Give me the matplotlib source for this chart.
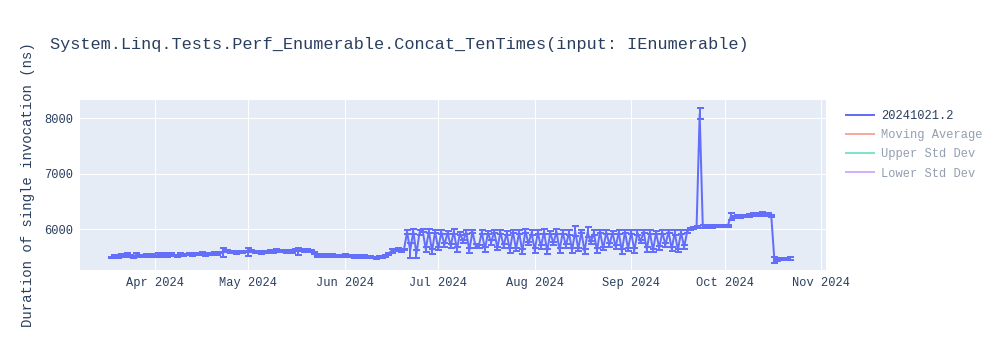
import matplotlib
matplotlib.use("Agg")
import matplotlib.pyplot as plt
import matplotlib.dates as mdates
from matplotlib.lines import Line2D
import pandas as pd

# ---------------- data ----------------
title = "System.Linq.Tests.Perf_Enumerable.Concat_TenTimes(input: IEnumerable)"
y_label = "Duration of single invocation (ns)"
series_name = "20241021.2"
hidden_series = ["Moving Average", "Upper Std Dev", "Lower Std Dev"]
first_day = "2024-03-18"
last_day = "2024-10-22"

vals_mar = [5495, 5520, 5505, 5540, 5515, 5550, 5520, 5505, 5545, 5515, 5510, 5545, 5525, 5540]
vals_apr = [5510, 5545, 5520, 5550, 5525, 5560, 5530, 5525, 5555, 5535, 5545, 5565, 5535, 5560, 5545,
            5570, 5540, 5565, 5550, 5575, 5555, 5580, 5590, 5610, 5580, 5600, 5575, 5595, 5580, 5600]
vals_may = [5590, 5605, 5580, 5595, 5575, 5600, 5590, 5615, 5595, 5625, 5600, 5620, 5590, 5610, 5595,
            5625, 5605, 5630, 5600, 5625, 5610, 5570, 5510, 5535, 5510, 5540, 5515, 5535, 5510, 5530, 5515]
vals_jun = [5535, 5510, 5525, 5500, 5520, 5495, 5515, 5490, 5510, 5495, 5485, 5510, 5500, 5525, 5560,
            5610, 5620, 5640, 5615, 5635,
            5950, 5620, 5960, 5560, 5940, 5980, 5640, 5970, 5600, 5960]
vals_jul = [5650, 5950, 5720, 5940, 5700, 5960, 5640, 5930, 5780, 5950, 5620, 5960, 5700, 5690, 5950,
            5640, 5940, 5760, 5960, 5660, 5950, 5700, 5930, 5620, 5960, 5640, 5950, 5600, 5970, 5740, 5940]
vals_aug = [5620, 5950, 5680, 5960, 5600, 5940, 5750, 5960, 5620, 5950, 5700, 5940, 5620, 5970, 5640,
            5960, 5600, 5950, 5760, 5940, 5620, 5960, 5650, 5950, 5720, 5940, 5680, 5950, 5600, 5960, 5640]
vals_sep = [5950, 5620, 5940, 5780, 5960, 5640, 5950, 5620, 5940, 5660, 5950, 5720, 5960, 5650, 5940,
            5620, 5950, 5680, 5960,
            6010, 6030, 6040, 8080, 6050, 6045, 6055, 6050, 6060, 6055, 6060]
vals_oct = [6065, 6060, 6230, 6225, 6235, 6230, 6240, 6235, 6250, 6265, 6270, 6260, 6275, 6270, 6265,
            6240, 5450, 5455, 5460, 5465, 5470, 5475]

err_mar = [15, 15, 20, 15, 15, 25, 15, 15, 20, 15, 15, 15, 20, 15]
err_apr = [15, 20, 15, 15, 20, 15, 15, 15, 20, 15, 15, 15, 15, 15, 15,
           15, 15, 15, 15, 15, 15, 15, 80, 15, 15, 15, 15, 15, 15, 15]
err_may = [70, 15, 15, 15, 15, 15, 15, 15, 15, 15, 15, 15, 15, 15, 15,
           15, 60, 15, 15, 15, 15, 15, 15, 15, 15, 15, 15, 15, 15, 15, 15]
err_jun = [15, 15, 15, 15, 15, 15, 15, 15, 15, 15, 15, 15, 15, 15, 15,
           30, 15, 15, 15, 15,
           40, 130, 40, 70, 40, 30, 40, 30, 40, 30]
err_jul = [30, 40, 40, 30, 30, 40, 40, 30, 30, 40, 40, 30, 30, 30, 40,
           40, 30, 40, 30, 30, 40, 30, 40, 40, 30, 30, 40, 40, 30, 30, 40]
err_aug = [40, 30, 30, 40, 40, 30, 30, 40, 40, 30, 30, 40, 40, 90, 30,
           30, 40, 90, 30, 40, 40, 30, 30, 40, 40, 30, 30, 40, 40, 30, 30]
err_sep = [30, 40, 40, 30, 30, 40, 40, 30, 30, 40, 40, 30, 30, 40, 40,
           30, 30, 40, 30,
           20, 20, 20, 100, 20, 20, 20, 20, 20, 20, 20]
err_oct = [20, 20, 60, 20, 20, 20, 20, 20, 20, 30, 20, 20, 30, 30, 20,
           20, 60, 20, 20, 20, 20, 20]

values = vals_mar + vals_apr + vals_may + vals_jun + vals_jul + vals_aug + vals_sep + vals_oct
errors = err_mar + err_apr + err_may + err_jun + err_jul + err_aug + err_sep + err_oct
dates = pd.date_range(first_day, last_day, freq="D")

# ---------------- style ----------------
FONT = ["Liberation Mono", "DejaVu Sans Mono"]
TXT = "#2a3f5f"
PX = 0.72  # points per pixel at dpi 100

fig = plt.figure(figsize=(10, 3.5), dpi=100)
ax = fig.add_axes([0.080, 80 / 350, 0.746, 170 / 350])
ax.set_facecolor("#e5ecf6")
for s in ax.spines.values():
    s.set_visible(False)

ax.errorbar(dates, values, yerr=errors, color="#636efa", lw=2 * PX,
            elinewidth=2 * PX, capsize=3.5 * PX, capthick=2 * PX, zorder=3)

ax.set_xlim(pd.Timestamp("2024-03-07 22:00"), pd.Timestamp("2024-11-02 14:00"))
ax.set_ylim(5267, 8330)
ax.set_yticks([6000, 7000, 8000])
ax.xaxis.set_major_locator(mdates.MonthLocator())
ax.xaxis.set_major_formatter(mdates.DateFormatter("%b %Y"))
ax.grid(True, color="white", lw=1 * PX)
ax.set_axisbelow(True)
ax.tick_params(length=0, pad=5, labelsize=12 * PX, colors=TXT)
for lab in ax.get_xticklabels() + ax.get_yticklabels():
    lab.set_family(FONT)

fig.text(0.05, 1 - 45 / 350, title, family=FONT, fontsize=16.9 * PX, color=TXT,
         ha="left", va="center")
fig.text(28 / 1000, 1 - 185 / 350, y_label, family=FONT, fontsize=14 * PX, color=TXT,
         rotation=90, ha="center", va="center")

handles = [Line2D([], [], color="#636efa", lw=2 * PX)]
for c in ["#EF553B", "#00cc96", "#ab63fa"]:
    handles.append(Line2D([], [], color=c, lw=2 * PX, alpha=0.5))
leg = fig.legend(handles, [series_name] + hidden_series, loc="upper left",
                 bbox_to_anchor=(846 / 1000, 1 - 110 / 350), frameon=False,
                 prop={"family": FONT, "size": 12 * PX}, handlelength=2.35,
                 handletextpad=0.55, labelspacing=0.6, borderaxespad=0, borderpad=0)
for i, t in enumerate(leg.get_texts()):
    t.set_color(TXT)
    if i > 0:
        t.set_alpha(0.5)

fig.savefig("out.png", dpi=100)
